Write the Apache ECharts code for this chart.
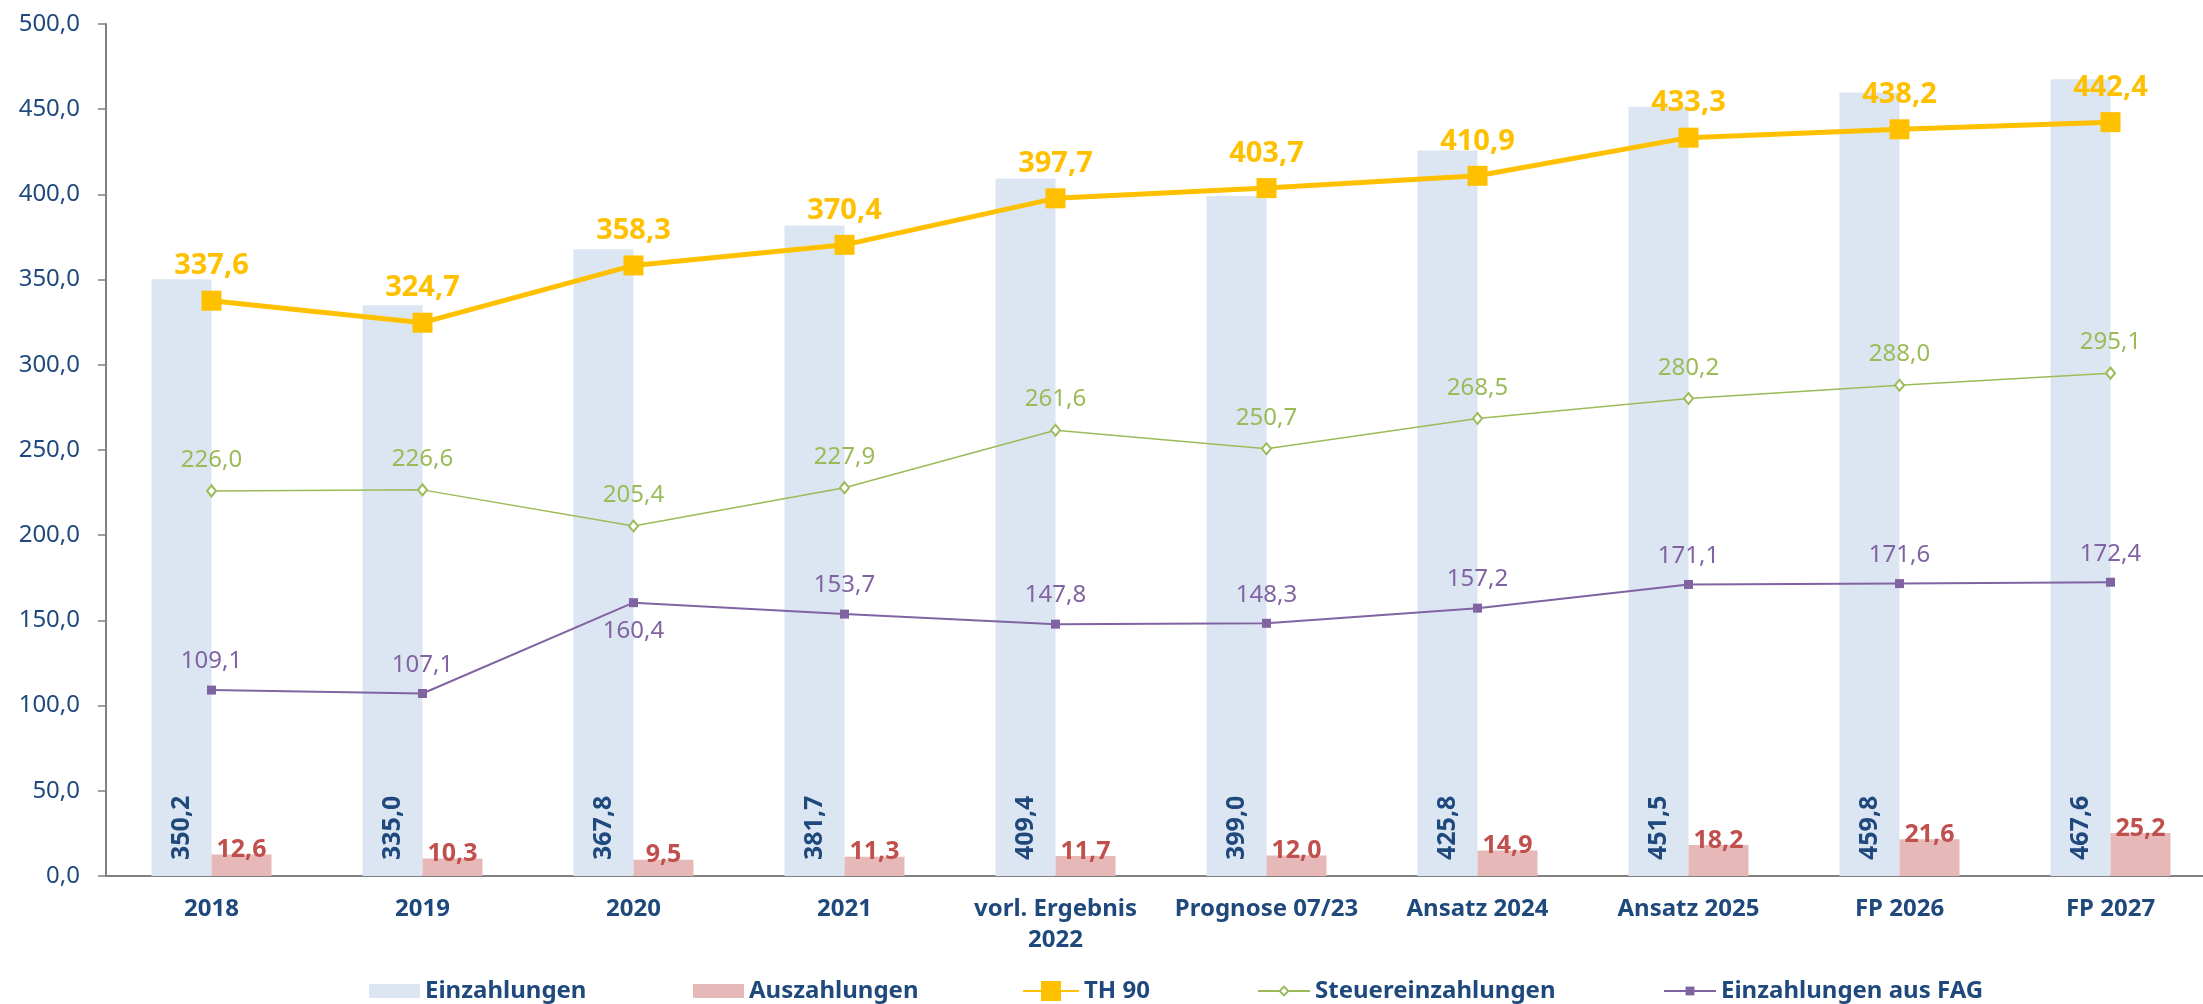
<!DOCTYPE html>
<html lang="de">
<head>
    <meta charset="UTF-8">
    <title>TH 90 - Einzahlungen und Auszahlungen</title>
    <style type="text/css">
        *{
            margin: 0;
            padding: 0;
        }
        #main{
            width: 2203px;
            height: 1004px;
            background: #fff;
        }
    </style>
</head>
<body>
    <div id="main"></div>
    <script src="https://cdn.jsdelivr.net/npm/echarts@6/dist/echarts.min.js"></script>
    <script type="text/javascript">
        // Daten
        var categories = ['2018', '2019', '2020', '2021', 'vorl. Ergebnis\n2022', 'Prognose 07/23',
            'Ansatz 2024', 'Ansatz 2025', 'FP 2026', 'FP 2027'];
        var einzahlungen = [350.2, 335.0, 367.8, 381.7, 409.4, 399.0, 425.8, 451.5, 459.8, 467.6];
        var auszahlungen = [12.6, 10.3, 9.5, 11.3, 11.7, 12.0, 14.9, 18.2, 21.6, 25.2];
        var th90 = [337.6, 324.7, 358.3, 370.4, 397.7, 403.7, 410.9, 433.3, 438.2, 442.4];
        var steuer = [226.0, 226.6, 205.4, 227.9, 261.6, 250.7, 268.5, 280.2, 288.0, 295.1];
        var fag = [109.1, 107.1, 160.4, 153.7, 147.8, 148.3, 157.2, 171.1, 171.6, 172.4];

        var blue = '#1F497D';
        var font = 'Noto Sans';

        function fmt(v) {
            if (typeof v === 'object') v = v.value;
            return Number(v).toFixed(1).replace('.', ',');
        }
        function labelFmt(p) {
            return fmt(p.value);
        }

        var myChart = echarts.init(document.getElementById('main'));

        // einzelne Legenden, damit die Abstände wie im Original sind
        function legend(name, left, icon, w, h) {
            var l = {
                data: [name],
                left: left,
                top: 974,
                itemWidth: w,
                itemHeight: h,
                itemGap: 5,
                textStyle: {
                    fontFamily: font,
                    fontSize: 24,
                    fontWeight: 'bold',
                    color: blue
                }
            };
            if (icon) l.icon = icon;
            return l;
        }

        var option = {
            animation: false,
            backgroundColor: '#fff',
            textStyle: { fontFamily: font },
            legend: [
                legend('Einzahlungen', 364, 'rect', 51, 14),
                legend('Auszahlungen', 688, 'rect', 51, 14),
                legend('TH 90', 1017, null, 56, 25),
                legend('Steuereinzahlungen', 1252, null, 52, 11),
                legend('Einzahlungen aus FAG', 1658, null, 52, 11)
            ],
            grid: {
                left: 106,
                width: 2110,
                top: 24,
                bottom: 128,
                outerBoundsMode: 'none'
            },
            xAxis: {
                type: 'category',
                data: categories,
                axisLine: { lineStyle: { color: '#808080', width: 2 } },
                axisTick: { length: 8, lineStyle: { color: '#808080', width: 1.5 } },
                axisLabel: {
                    interval: 0,
                    margin: 18,
                    fontFamily: font,
                    fontSize: 24,
                    fontWeight: 'bold',
                    color: blue,
                    lineHeight: 31
                }
            },
            yAxis: {
                type: 'value',
                min: 0,
                max: 500,
                interval: 50,
                axisLine: { show: true, lineStyle: { color: '#808080', width: 2 } },
                axisTick: { show: true, length: 8, lineStyle: { color: '#808080', width: 1.5 } },
                splitLine: { show: false },
                axisLabel: {
                    margin: 26,
                    fontFamily: font,
                    fontSize: 24,
                    color: blue,
                    formatter: fmt
                }
            },
            series: [{
                name: 'Einzahlungen',
                type: 'bar',
                data: einzahlungen,
                barWidth: 60,
                barGap: '0%',
                itemStyle: { color: '#DCE6F2' },
                label: {
                    show: true,
                    position: 'insideBottom',
                    rotate: 90,
                    align: 'left',
                    verticalAlign: 'middle',
                    distance: 16,
                    fontFamily: font,
                    fontSize: 25,
                    fontWeight: 'bold',
                    color: blue,
                    formatter: labelFmt
                }
            }, {
                name: 'Auszahlungen',
                type: 'bar',
                data: auszahlungen,
                barWidth: 60,
                itemStyle: { color: '#E6B9B8' },
                label: {
                    show: true,
                    position: 'top',
                    distance: 0,
                    offset: [0, 8],
                    fontFamily: font,
                    fontSize: 25,
                    fontWeight: 'bold',
                    color: '#C0504D',
                    formatter: labelFmt
                }
            }, {
                name: 'TH 90',
                type: 'line',
                data: th90,
                z: 5,
                symbol: 'rect',
                symbolSize: 20,
                lineStyle: { color: '#FFC000', width: 5 },
                itemStyle: { color: '#FFC000' },
                label: {
                    show: true,
                    position: 'top',
                    distance: 10,
                    fontFamily: font,
                    fontSize: 29,
                    fontWeight: 'bold',
                    color: '#FFC000',
                    formatter: labelFmt
                }
            }, {
                name: 'Steuereinzahlungen',
                type: 'line',
                data: steuer,
                z: 4,
                symbol: 'emptyDiamond',
                symbolSize: [9, 11],
                lineStyle: { color: '#9BBB59', width: 1.5 },
                itemStyle: { color: '#9BBB59', borderWidth: 1.2 },
                label: {
                    show: true,
                    position: 'top',
                    distance: 12,
                    fontFamily: font,
                    fontSize: 24,
                    color: '#9BBB59',
                    formatter: labelFmt
                }
            }, {
                name: 'Einzahlungen aus FAG',
                type: 'line',
                z: 4,
                // 2020 steht das Label unter dem Punkt
                data: fag.map(function (v, i) {
                    return i === 2 ? { value: v, label: { position: 'bottom' } } : v;
                }),
                symbol: 'rect',
                symbolSize: 9,
                lineStyle: { color: '#8064A2', width: 2 },
                itemStyle: { color: '#8064A2' },
                label: {
                    show: true,
                    position: 'top',
                    distance: 12,
                    fontFamily: font,
                    fontSize: 24,
                    color: '#8064A2',
                    formatter: labelFmt
                }
            }]
        };

        myChart.setOption(option);
    </script>
</body>
</html>
